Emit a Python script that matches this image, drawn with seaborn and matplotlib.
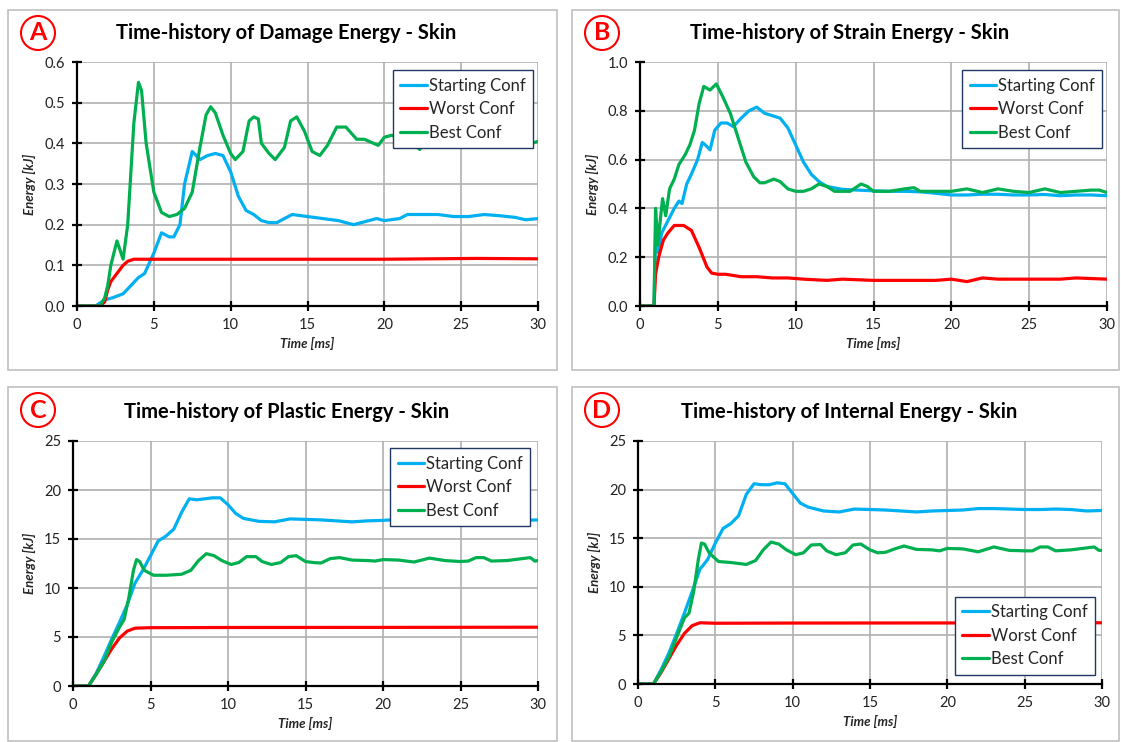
import pandas as pd
import matplotlib.pyplot as plt
import seaborn as sns
from matplotlib.patches import Rectangle
from matplotlib.ticker import FormatStrFormatter

# ---------------- data ----------------
# Panel A - Damage energy
a_start_t = [0, 1.2, 1.8, 2.3, 3.0, 3.5, 4.0, 4.4, 5.0, 5.5, 6.0, 6.3, 6.7, 7.0, 7.5, 8.0, 8.5, 9.0, 9.5, 10.0,
             10.5, 11.0, 11.5, 12.0, 12.5, 13.0, 13.5, 14.0, 15.0, 16.0, 17.0, 18.0, 18.5, 19.5, 20.0, 21.0,
             21.5, 22.5, 23.5, 24.5, 25.5, 26.5, 27.5, 28.5, 29.2, 30]
a_start_e = [0, 0, 0.015, 0.02, 0.03, 0.05, 0.07, 0.08, 0.13, 0.18, 0.17, 0.17, 0.2, 0.3, 0.38, 0.36, 0.37, 0.375,
             0.37, 0.33, 0.27, 0.235, 0.225, 0.21, 0.205, 0.205, 0.215, 0.225, 0.22, 0.215, 0.21, 0.2, 0.205,
             0.215, 0.21, 0.215, 0.225, 0.225, 0.225, 0.22, 0.22, 0.225, 0.222, 0.218, 0.212, 0.215]
a_worst_t = [0, 1.5, 1.8, 2.0, 2.2, 2.6, 3.0, 3.3, 3.7, 4.5, 10, 20, 26, 30]
a_worst_e = [0, 0, 0.01, 0.04, 0.06, 0.08, 0.1, 0.11, 0.115, 0.115, 0.115, 0.115, 0.117, 0.116]
a_best_t = [0, 1.5, 1.8, 2.0, 2.2, 2.6, 3.0, 3.3, 3.7, 4.0, 4.2, 4.5, 5.0, 5.5, 6.0, 6.5, 7.0, 7.5, 8.0, 8.4,
            8.7, 9.0, 9.5, 10.0, 10.3, 10.8, 11.2, 11.5, 11.8, 12.0, 12.5, 12.9, 13.5, 13.9, 14.3, 14.8, 15.3,
            15.8, 16.3, 16.9, 17.5, 18.2, 18.7, 19.3, 19.6, 20.0, 20.5, 21.0, 21.5, 22.0, 22.3, 22.8, 23.5,
            24.2, 25.0, 25.5, 26.2, 27.0, 27.6, 28.5, 29.2, 29.6, 30]
a_best_e = [0, 0, 0.02, 0.05, 0.1, 0.16, 0.115, 0.2, 0.45, 0.55, 0.53, 0.4, 0.28, 0.23, 0.22, 0.225, 0.24, 0.28,
            0.39, 0.47, 0.49, 0.475, 0.42, 0.375, 0.36, 0.38, 0.455, 0.465, 0.46, 0.4, 0.375, 0.36, 0.39,
            0.455, 0.465, 0.43, 0.38, 0.37, 0.395, 0.44, 0.44, 0.41, 0.41, 0.4, 0.395, 0.415, 0.42, 0.41, 0.41,
            0.395, 0.385, 0.41, 0.42, 0.4, 0.395, 0.4, 0.42, 0.395, 0.41, 0.42, 0.44, 0.4, 0.405]

# Panel B - Strain energy
b_start_t = [0, 0.9, 1.0, 1.15, 1.4, 1.8, 2.2, 2.5, 2.7, 3.0, 3.3, 3.7, 4.0, 4.2, 4.5, 4.8, 5.2, 5.6, 6.0,
             6.5, 7.0, 7.5, 8.0, 8.5, 9.0, 9.5, 10.0, 10.5, 11, 11.5, 12, 13, 14, 15, 16, 17, 18, 19, 20, 21,
             22, 23, 24, 25, 26, 27, 28, 29, 30]
b_start_e = [0, 0, 0.3, 0.22, 0.3, 0.35, 0.4, 0.43, 0.42, 0.5, 0.54, 0.6, 0.67, 0.66, 0.64, 0.72, 0.75, 0.75,
             0.735, 0.77, 0.8, 0.815, 0.79, 0.78, 0.77, 0.73, 0.66, 0.59, 0.54, 0.51, 0.49, 0.478, 0.475,
             0.472, 0.47, 0.47, 0.468, 0.462, 0.455, 0.455, 0.458, 0.458, 0.455, 0.455, 0.457, 0.452, 0.455,
             0.455, 0.452]
b_worst_t = [0, 0.9, 1.0, 1.2, 1.5, 1.8, 2.2, 2.8, 3.3, 3.8, 4.3, 4.6, 5.0, 5.5, 6.5, 7.5, 8.5, 9.5, 10.5, 12,
             13, 15, 17, 19, 20, 21, 22, 23, 25, 27, 28, 30]
b_worst_e = [0, 0, 0.13, 0.2, 0.27, 0.3, 0.33, 0.33, 0.31, 0.24, 0.16, 0.135, 0.13, 0.13, 0.12, 0.12, 0.115,
             0.115, 0.11, 0.105, 0.11, 0.105, 0.105, 0.105, 0.11, 0.1, 0.115, 0.11, 0.11, 0.11, 0.115, 0.11]
b_best_t = [0, 0.9, 1.0, 1.15, 1.3, 1.45, 1.65, 1.9, 2.2, 2.5, 2.9, 3.2, 3.5, 3.8, 4.1, 4.5, 4.9, 5.3, 5.8,
            6.3, 6.8, 7.3, 7.7, 8.0, 8.6, 9.0, 9.5, 10, 10.5, 11, 11.5, 12, 12.5, 13.5, 14.2, 14.6, 15, 16,
            17, 17.6, 18, 19, 20, 21, 22, 23, 24, 25, 26, 27, 28, 29, 29.5, 30]
b_best_e = [0, 0, 0.4, 0.25, 0.35, 0.44, 0.37, 0.48, 0.52, 0.58, 0.62, 0.66, 0.72, 0.83, 0.9, 0.885, 0.91,
            0.86, 0.79, 0.69, 0.59, 0.53, 0.505, 0.505, 0.52, 0.51, 0.48, 0.47, 0.47, 0.48, 0.5, 0.49, 0.47,
            0.47, 0.5, 0.49, 0.47, 0.47, 0.48, 0.485, 0.47, 0.47, 0.47, 0.48, 0.465, 0.48, 0.47, 0.465, 0.48,
            0.465, 0.47, 0.475, 0.475, 0.465]

# Panel C - Plastic energy
c_start_t = [0, 1, 1.5, 2, 2.5, 3, 3.5, 4, 4.5, 5, 5.5, 6, 6.5, 7, 7.5, 8, 9, 9.5, 10, 10.5, 11, 12, 13, 14,
             15, 16, 17, 18, 19, 20, 21, 22, 23, 24, 25, 26, 27, 28, 29, 30]
c_start_e = [0, 0, 1.3, 3, 4.8, 6.5, 8.3, 10.5, 11.8, 13.3, 14.8, 15.3, 16, 17.7, 19.1, 19, 19.2, 19.2, 18.5,
             17.6, 17.1, 16.8, 16.75, 17.05, 17.0, 16.95, 16.85, 16.75, 16.85, 16.9, 17.0, 17.1, 17.05,
             17.05, 17.0, 17.05, 17.05, 17.0, 16.9, 16.95]
c_worst_t = [0, 1, 1.5, 2, 2.5, 3, 3.5, 4, 5, 10, 20, 30]
c_worst_e = [0, 0, 1.2, 2.5, 3.8, 4.9, 5.6, 5.9, 5.95, 5.97, 5.98, 6.0]
c_best_t = [0, 1, 1.5, 2, 2.5, 3, 3.3, 3.6, 3.9, 4.1, 4.3, 4.6, 5.2, 6, 7, 7.6, 8.1, 8.6, 9.1, 9.6, 10.2,
            10.7, 11.2, 11.8, 12.2, 12.8, 13.4, 13.9, 14.4, 15, 15.5, 16, 16.6, 17.2, 18, 19, 19.5, 20, 21,
            22, 23, 24, 25, 25.5, 26, 26.5, 27, 28, 29, 29.5, 29.8, 30]
c_best_e = [0, 0, 1.2, 2.5, 4.5, 6, 6.8, 9, 11.8, 12.9, 12.7, 11.8, 11.3, 11.3, 11.4, 11.8, 12.8, 13.5, 13.3,
            12.8, 12.4, 12.6, 13.2, 13.2, 12.7, 12.4, 12.6, 13.2, 13.3, 12.7, 12.6, 12.55, 13.0, 13.1,
            12.85, 12.8, 12.75, 12.9, 12.85, 12.65, 13.05, 12.8, 12.7, 12.75, 13.1, 13.1, 12.75, 12.8, 13.0,
            13.1, 12.75, 12.8]

# Panel D - Internal energy
d_start_t = [0, 1, 1.5, 2, 2.5, 3, 3.5, 4, 4.5, 5, 5.5, 6, 6.5, 7, 7.5, 8, 8.5, 9, 9.5, 10, 10.5, 11, 12,
             13, 14, 15, 16, 17, 18, 19, 20, 21, 22, 23, 24, 25, 26, 27, 28, 29, 30]
d_start_e = [0, 0, 1.5, 3.2, 5.2, 7.3, 9.5, 11.8, 12.8, 14.5, 16.0, 16.5, 17.3, 19.5, 20.6, 20.5, 20.5, 20.7,
             20.6, 19.6, 18.6, 18.2, 17.8, 17.7, 18.0, 17.95, 17.9, 17.8, 17.7, 17.8, 17.85, 17.9, 18.05,
             18.05, 18.0, 17.95, 17.95, 18.0, 17.95, 17.8, 17.85]
d_worst_t = [0, 1, 1.5, 2, 2.5, 3, 3.5, 4, 5, 10, 20, 30]
d_worst_e = [0, 0, 1.2, 2.6, 4.0, 5.2, 6.0, 6.3, 6.25, 6.27, 6.28, 6.3]
d_best_t = [0, 1, 1.5, 2, 2.5, 3, 3.3, 3.6, 3.9, 4.1, 4.3, 4.6, 5.2, 6, 7, 7.6, 8.1, 8.6, 9.1, 9.6, 10.2,
            10.7, 11.2, 11.8, 12.2, 12.8, 13.4, 13.9, 14.4, 15, 15.5, 16, 16.6, 17.2, 18, 19, 19.5, 20, 21,
            22, 23, 24, 25, 25.5, 26, 26.5, 27, 28, 29, 29.5, 29.8, 30]
d_best_e = [0, 0, 1.3, 2.8, 4.8, 6.8, 7.3, 9.5, 12.8, 14.5, 14.4, 13.5, 12.6, 12.5, 12.3, 12.7, 13.8, 14.6,
            14.4, 13.8, 13.3, 13.5, 14.3, 14.35, 13.7, 13.3, 13.5, 14.3, 14.4, 13.8, 13.5, 13.55, 13.9, 14.2,
            13.85, 13.8, 13.7, 13.95, 13.9, 13.6, 14.1, 13.75, 13.7, 13.7, 14.1, 14.1, 13.7, 13.8, 14.0, 14.1,
            13.75, 13.75]

confs = ['Starting Conf', 'Worst Conf', 'Best Conf']
palette = {'Starting Conf': '#00B0F0', 'Worst Conf': '#FF0000', 'Best Conf': '#00B050'}


def make_df(series):
    rows = []
    for conf, (t, e) in zip(confs, series):
        rows += [{'time': ti, 'energy': ei, 'conf': conf} for ti, ei in zip(t, e)]
    return pd.DataFrame(rows)


panels = [
    dict(letter='A', title='Time-history of Damage Energy - Skin',
         df=make_df([(a_start_t, a_start_e), (a_worst_t, a_worst_e), (a_best_t, a_best_e)]),
         ylim=0.6, ystep=0.1, fmt='%.1f', rect=[77, 62, 538, 306], box=[8, 10, 557, 370],
         leg=(0.685, 0.967)),
    dict(letter='B', title='Time-history of Strain Energy - Skin',
         df=make_df([(b_start_t, b_start_e), (b_worst_t, b_worst_e), (b_best_t, b_best_e)]),
         ylim=1.0, ystep=0.2, fmt='%.1f', rect=[640, 62, 1107, 306], box=[572, 10, 1119, 370],
         leg=(0.69, 0.967)),
    dict(letter='C', title='Time-history of Plastic Energy - Skin',
         df=make_df([(c_start_t, c_start_e), (c_worst_t, c_worst_e), (c_best_t, c_best_e)]),
         ylim=25, ystep=5, fmt='%d', rect=[73, 441, 538, 686], box=[8, 387, 557, 741],
         leg=(0.682, 0.971)),
    dict(letter='D', title='Time-history of Internal Energy - Skin',
         df=make_df([(d_start_t, d_start_e), (d_worst_t, d_worst_e), (d_best_t, d_best_e)]),
         ylim=25, ystep=5, fmt='%d', rect=[638, 441, 1102, 684], box=[572, 387, 1119, 741],
         leg=(0.683, 0.36)),
]

sns.set_style('white')
plt.rcParams['font.family'] = ['Lato', 'DejaVu Sans']

W, H = 1121, 742
fig = plt.figure(figsize=(W / 100, H / 100), dpi=100)

for p in panels:
    # gray panel frame
    x0, y0, x1, y1 = p['box']
    fig.patches.append(Rectangle((x0 / W, 1 - y1 / H), (x1 - x0) / W, (y1 - y0) / H,
                                 transform=fig.transFigure, fill=False, ec='#C0C0C0', lw=1.2))

    l, t, r, b = p['rect']
    ax = fig.add_axes([l / W, 1 - b / H, (r - l) / W, (b - t) / H])
    sns.lineplot(data=p['df'], x='time', y='energy', hue='conf', hue_order=confs, palette=palette,
                 estimator=None, sort=False, lw=2.3, ax=ax)

    ax.set_xlim(0, 30)
    ax.set_ylim(0, p['ylim'])
    ax.set_xticks(range(0, 31, 5))
    n = int(round(p['ylim'] / p['ystep']))
    ax.set_yticks([i * p['ystep'] for i in range(n + 1)])
    ax.yaxis.set_major_formatter(FormatStrFormatter(p['fmt']))
    ax.grid(True, color='#B0B0B0', lw=1.2)
    ax.set_axisbelow(True)
    for s in ['top', 'right']:
        ax.spines[s].set_visible(False)
    for s in ['left', 'bottom']:
        ax.spines[s].set_color('black')
        ax.spines[s].set_linewidth(1.6)
        ax.spines[s].set_zorder(3)
    ax.tick_params(direction='inout', length=7, width=1.6, color='black', labelsize=10.5,
                   labelcolor='#222222', pad=5, left=True, bottom=True)

    ax.set_xlabel('Time [ms]', fontsize=9.5, fontweight='bold', fontstyle='italic', labelpad=4)
    ax.set_ylabel('Energy [kJ]', fontsize=9.5, fontweight='bold', fontstyle='italic', labelpad=6)

    leg = ax.legend(loc='upper left', bbox_to_anchor=p['leg'], borderaxespad=0, fontsize=12,
                    handlelength=1.6, handletextpad=0.1, labelspacing=0.45, borderpad=0.45,
                    fancybox=False, framealpha=1, title=None)
    leg.get_frame().set_edgecolor('#1F3864')
    leg.get_frame().set_linewidth(1.0)
    for h in leg.get_lines():
        h.set_linewidth(2.3)

    # title and circled letter
    fig.text(((x0 + x1) / 2 + 4) / W, 1 - (t - 29) / H, p['title'], ha='center', va='center',
             fontsize=14.5, fontweight='bold', color='black')
    fig.text((x0 + 30) / W, 1 - (y0 + 23) / H, p['letter'], ha='center', va='center',
             fontsize=18, fontweight='bold', color='#FF0000',
             bbox=dict(boxstyle='circle,pad=0.22', fc='white', ec='#FF0000', lw=1.5))

fig.savefig('out.png', dpi=100)
